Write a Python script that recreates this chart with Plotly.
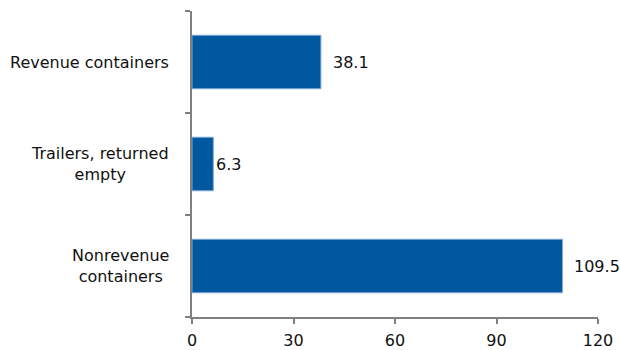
import plotly.graph_objects as go

categories = ["Revenue containers", "Trailers, returned<br>empty", "Nonrevenue<br>containers"]
values = [38.1, 6.3, 109.5]
value_labels = ["38.1", "6.3", "109.5"]
x_ticks = [0, 30, 60, 90, 120]

FONT = "DejaVu Sans"
FS = 16
BAR = "#0059A0"
AXIS = "#808080"
TEXT = "#111111"

# horizontal gap between bar end and its value label
label_gap = [10, 1, 10]

fig = go.Figure(
    go.Bar(
        y=list(range(len(categories))),
        x=values,
        orientation="h",
        marker=dict(color=BAR, line=dict(color="#7FAAD6", width=1)),
        hoverinfo="skip",
    )
)

annotations = []
for i, (v, t) in enumerate(zip(values, value_labels)):
    annotations.append(dict(
        x=v, y=i, xref="x", yref="y", text=t, showarrow=False,
        xanchor="left", yanchor="middle", xshift=label_gap[i],
        font=dict(family=FONT, size=FS, color=TEXT),
    ))
for i, c in enumerate(categories):
    annotations.append(dict(
        x=0, y=i, xref="paper", yref="y", text=c, showarrow=False,
        xanchor="right", yanchor="middle", xshift=-21, align="center",
        font=dict(family=FONT, size=FS, color=TEXT),
    ))

fig.update_layout(
    width=620, height=350,
    margin=dict(l=192, r=22, t=11, b=33),
    paper_bgcolor="white", plot_bgcolor="white",
    bargap=0.475,
    showlegend=False,
    annotations=annotations,
    xaxis=dict(
        range=[0, 120], tickvals=x_ticks, ticktext=[str(t) for t in x_ticks],
        automargin=False, ticklabelstandoff=3,
        showgrid=False, zeroline=False, showline=True, linecolor=AXIS, linewidth=1.5,
        ticks="outside", ticklen=5, tickcolor=AXIS, tickwidth=1.5,
        tickfont=dict(family=FONT, size=FS, color=TEXT),
    ),
    yaxis=dict(
        range=[2.5, -0.5], tickvals=[-0.5, 0.5, 1.5, 2.5], showticklabels=False,
        automargin=False,
        showgrid=False, zeroline=False, showline=True, linecolor=AXIS, linewidth=1.5,
        ticks="outside", ticklen=5, tickcolor=AXIS, tickwidth=1.5,
    ),
)

fig.write_html("out.html")
